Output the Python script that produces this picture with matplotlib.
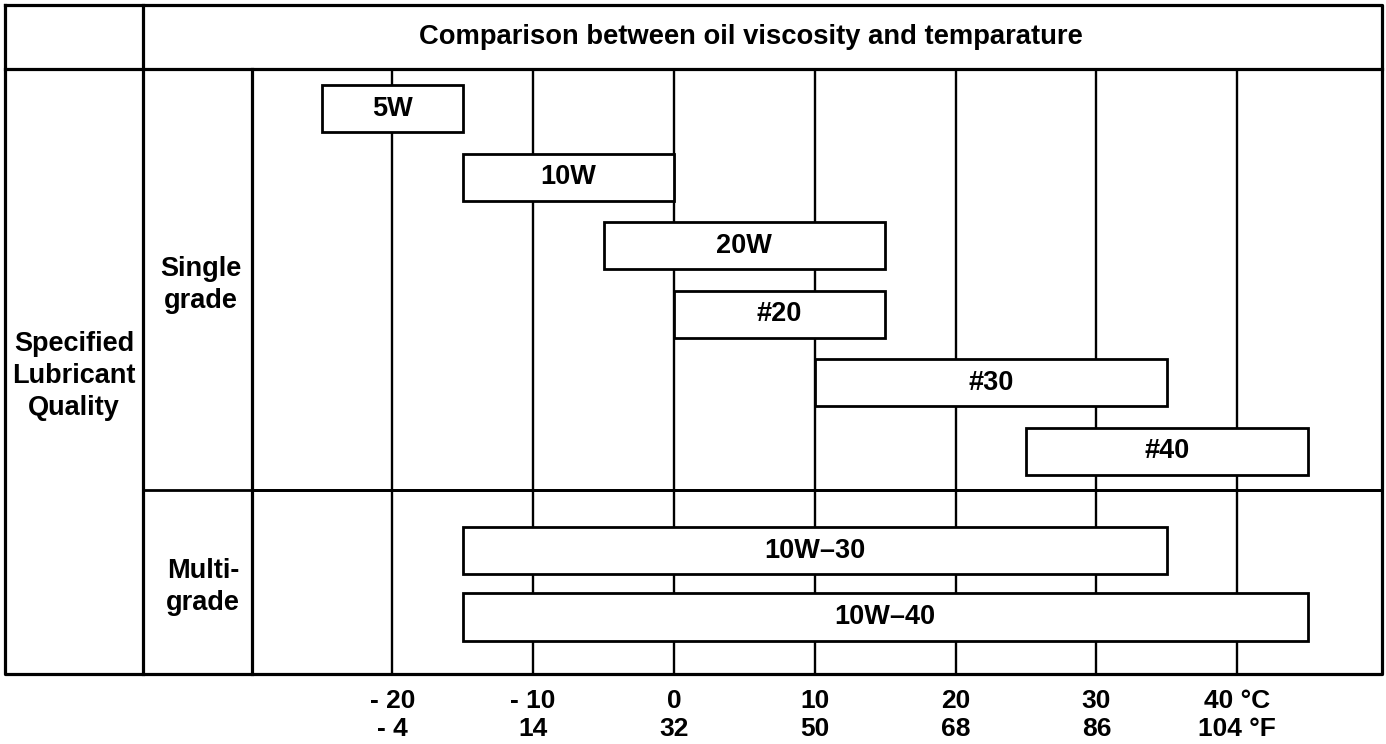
import numpy as np
import matplotlib.pyplot as plt

plt.rcParams['font.family'] = ['Liberation Sans', 'DejaVu Sans']
plt.rcParams['font.weight'] = 'bold'

# temperature scale (deg C) and its labels
temps_c = [-20, -10, 0, 10, 20, 30, 40]
c_labels = ['- 20', '- 10', '0', '10', '20', '30', '40 °C']
f_labels = ['- 4', '14', '32', '50', '68', '86', '104 °F']

# oil grades and their usable temperature range (deg C)
single_grades = ['5W', '10W', '20W', '#20', '#30', '#40']
single_low = [-25, -15, -5, 0, 10, 25]
single_high = [-15, 0, 15, 15, 35, 45]

multi_grades = ['10W–30', '10W–40']
multi_low = [-15, -15]
multi_high = [35, 45]

title = 'Comparison between oil viscosity and temparature'

W, H = 1386, 744
fig = plt.figure(figsize=(W / 100, H / 100), dpi=100)

# table frame drawn in pixel units
left, right, top, bottom = 5, 1382, 5, 674
head_y, col1_x, col2_x, div_y = 69, 143, 252, 490

# chart area (temperature axis)
ax = fig.add_axes([col2_x / W, (H - bottom) / H,
                   (right - col2_x) / W, (bottom - head_y) / H])
px_per_deg = 14.083
x0 = 674  # pixel of 0 deg C
ax.set_xlim((col2_x - x0) / px_per_deg, (right - x0) / px_per_deg)
row = 68.5  # pixels per row
ymax = (bottom - head_y) / row
ax.set_ylim(ymax, 0)

ax.vlines(temps_c, 0, ymax, color='black', lw=1.7, zorder=1)

single_pos = np.arange(len(single_grades)) + 0.58
multi_pos = 7.03 + np.arange(len(multi_grades)) * 0.97
bar_h = 0.69

for names, lo, hi, pos in [(single_grades, single_low, single_high, single_pos),
                           (multi_grades, multi_low, multi_high, multi_pos)]:
    lo = np.array(lo)
    hi = np.array(hi)
    ax.barh(pos, hi - lo, left=lo, height=bar_h, color='white',
            edgecolor='black', lw=2, zorder=2)
    for n, a, b, p in zip(names, lo, hi, pos):
        ax.text((a + b) / 2, p, n, ha='center', va='center',
                fontsize=19.5, fontweight='bold', zorder=3)

ax.hlines((div_y - head_y) / row, ax.get_xlim()[0], ax.get_xlim()[1],
          color='black', lw=2, zorder=1)

ax.set_xticks(temps_c, labels=[c + '\n' + f for c, f in zip(c_labels, f_labels)],
              fontsize=19, fontweight='bold', linespacing=1.2)
ax.tick_params(axis='x', length=0, pad=11)
ax.set_yticks([])
for s in ax.spines.values():
    s.set_visible(False)
ax.patch.set_alpha(0)

# frame overlay
fr = fig.add_axes([0, 0, 1, 1], zorder=-1)
fr.set_xlim(0, W)
fr.set_ylim(H, 0)
fr.axis('off')
lw = 2.3
fr.plot([left, right, right, left, left], [top, top, bottom, bottom, top],
        color='black', lw=lw)
fr.plot([left, right], [head_y, head_y], color='black', lw=lw)
fr.plot([col1_x, col1_x], [top, bottom], color='black', lw=lw)
fr.plot([col2_x, col2_x], [head_y, bottom], color='black', lw=lw)
fr.plot([col1_x, right], [div_y, div_y], color='black', lw=2)

fr.text((col1_x + right) / 2 - 12, 37, title, ha='center', va='center',
        fontsize=19.7, fontweight='bold')
fr.text(74, 376, 'Specified\nLubricant\nQuality', ha='center', va='center',
        fontsize=19.5, fontweight='bold', linespacing=1.28)
fr.text(201, 285, 'Single\ngrade', ha='center', va='center',
        fontsize=19.5, fontweight='bold', linespacing=1.28)
fr.text(203, 587, 'Multi-\ngrade', ha='center', va='center',
        fontsize=19.5, fontweight='bold', linespacing=1.28)

fig.savefig('out.png', dpi=100)
